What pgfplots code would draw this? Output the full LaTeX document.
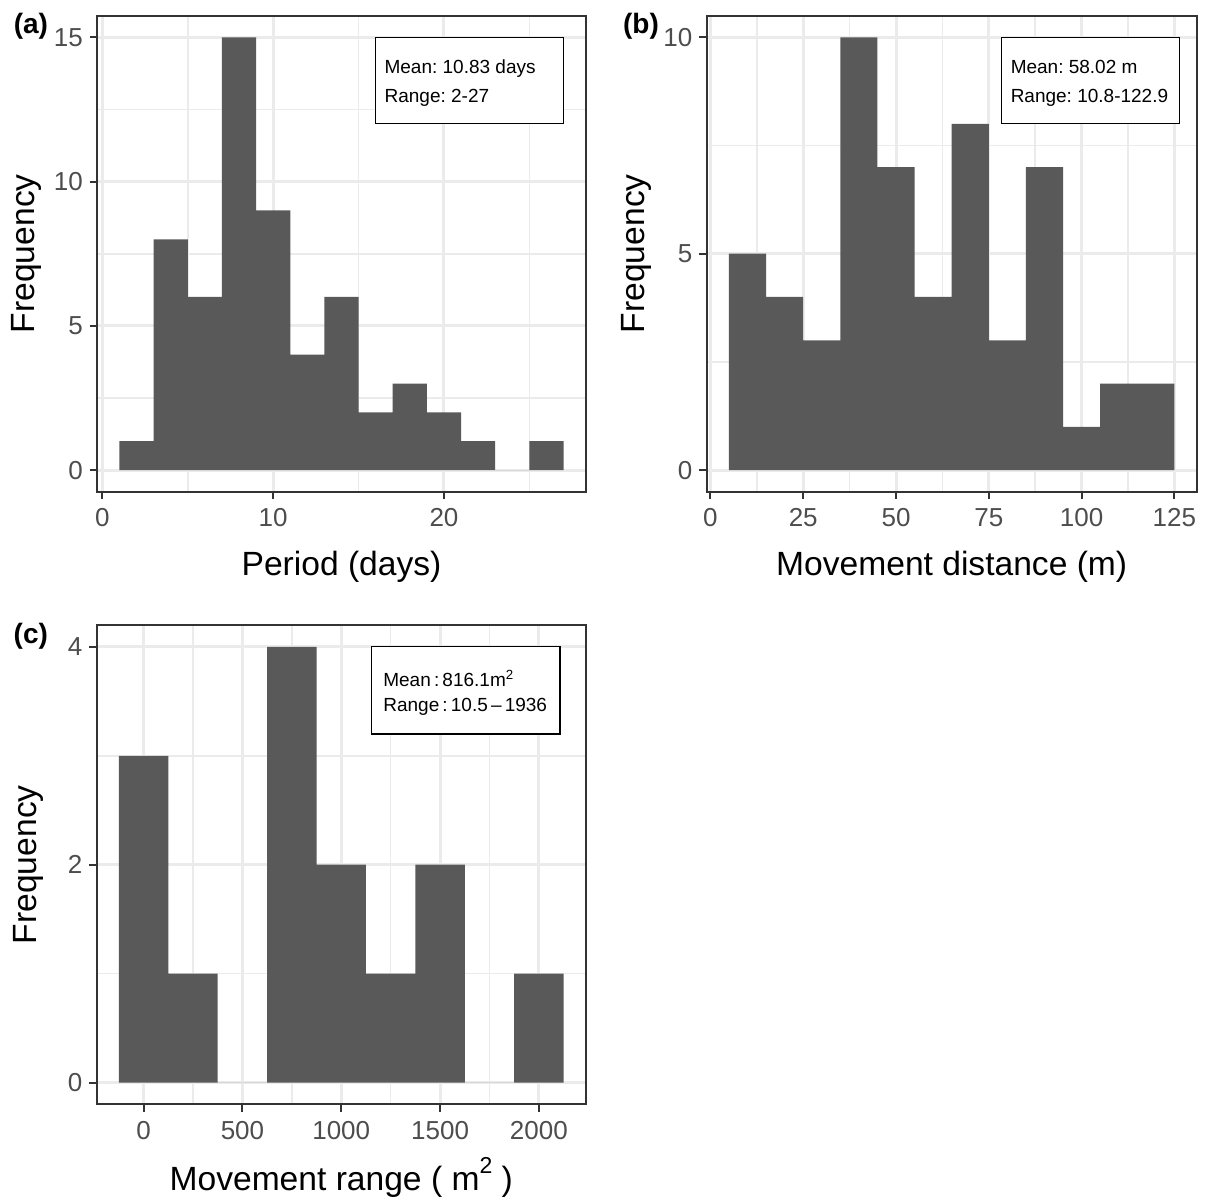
\documentclass[border=0pt]{standalone}
\usepackage{fontspec}
\setmainfont{Liberation Sans}
\usepackage{pgfplots}
\pgfplotsset{compat=1.18}
\frenchspacing
\definecolor{barc}{HTML}{595959}
\definecolor{gridc}{HTML}{EBEBEB}
\definecolor{frame}{HTML}{333333}
\definecolor{tlab}{HTML}{4D4D4D}
\newcommand{\labfont}{\fontsize{16.8}{20}\selectfont}
\newcommand{\boxfont}{\fontsize{9.5}{11}\selectfont}
\pgfplotsset{
  hstyle/.style={
    scale only axis,
    axis line style={draw=frame, line width=1pt},
    tick align=outside,
    xtick pos=bottom, ytick pos=left,
    major tick length=3.7pt,
    minor tick length=0pt,
    every tick/.style={draw=frame, line width=1pt},
    grid=both,
    major grid style={draw=gridc, line width=1.5pt},
    minor grid style={draw=gridc, line width=0.8pt},
    tick label style={font=\fontsize{13}{15}\selectfont, text=tlab},
    xticklabel style={yshift=-1.2pt},
    /pgf/number format/assume math mode=true,
    /pgf/number format/1000 sep={},
    scaled ticks=false,
    ylabel={Frequency},
  }
}
\begin{document}
\begin{tikzpicture}
\path[use as bounding box] (0,0) rectangle (602.5pt,-598pt);

% ---------- (a) ----------
\begin{axis}[hstyle,
  at={(48.65pt,-7.85pt)}, anchor=north west,
  width=244.2pt, height=238pt,
  xmin=-0.3, xmax=28.3, ymin=-0.75, ymax=15.75,
  xtick={0,10,20}, minor xtick={5,15,25},
  ytick={0,5,10,15}, minor ytick={2.5,7.5,12.5},
  xlabel={Period (days)},
  every axis x label/.style={at={(axis description cs:0.5,-0.175)}, anchor=base, font=\labfont},
  every axis y label/.style={at={(axis description cs:-0.1288,0.5)}, rotate=90, anchor=base, font=\labfont},
]
\addplot[const plot, fill=barc, draw=none] coordinates {
  (1,1) (3,8) (5,6) (7,15) (9,9) (11,4) (13,6) (15,2) (17,3) (19,2) (21,1) (23,0) (25,1) (27,1)
} \closedcycle;
\draw[fill=white, draw=black, line width=0.6pt] (axis cs:16,12) rectangle (axis cs:27,15);
\node[anchor=base west, inner sep=0, font=\boxfont] at (axis cs:16.5,13.75) {Mean: 10.83 days};
\node[anchor=base west, inner sep=0, font=\boxfont] at (axis cs:16.5,12.75) {Range: 2-27};
\end{axis}

% ---------- (b) ----------
\begin{axis}[hstyle,
  at={(353.35pt,-7.85pt)}, anchor=north west,
  width=245pt, height=238pt,
  xmin=-1, xmax=131, ymin=-0.5, ymax=10.5,
  xtick={0,25,50,75,100,125}, minor xtick={12.5,37.5,62.5,87.5,112.5},
  ytick={0,5,10}, minor ytick={2.5,7.5},
  xlabel={Movement distance (m)},
  every axis x label/.style={at={(axis description cs:0.5,-0.175)}, anchor=base, font=\labfont},
  every axis y label/.style={at={(axis description cs:-0.1265,0.5)}, rotate=90, anchor=base, font=\labfont},
]
\addplot[const plot, fill=barc, draw=none] coordinates {
  (5,5) (15,4) (25,3) (35,10) (45,7) (55,4) (65,8) (75,3) (85,7) (95,1) (105,2) (115,2) (125,2)
} \closedcycle;
\draw[fill=white, draw=black, line width=0.6pt] (axis cs:78.5,8) rectangle (axis cs:126.3,10);
\node[anchor=base west, inner sep=0, font=\boxfont] at (axis cs:80.8,9.16) {Mean: 58.02 m};
\node[anchor=base west, inner sep=0, font=\boxfont] at (axis cs:80.8,8.49) {Range: 10.8-122.9};
\end{axis}

% ---------- (c) ----------
\begin{axis}[hstyle,
  at={(48.35pt,-312.5pt)}, anchor=north west,
  width=244.55pt, height=239.7pt,
  xmin=-237.5, xmax=2237.5, ymin=-0.2, ymax=4.2,
  xtick={0,500,1000,1500,2000}, minor xtick={250,750,1250,1750},
  ytick={0,2,4}, minor ytick={1,3},
  xlabel={Movement range ( m\raisebox{0.5em}{\fontsize{11.5}{11.5}\selectfont 2} )},
  every axis x label/.style={at={(axis description cs:0.5,-0.1794)}, anchor=base, font=\labfont},
  every axis y label/.style={at={(axis description cs:-0.1235,0.5)}, rotate=90, anchor=base, font=\labfont},
]
\addplot[const plot, fill=barc, draw=none] coordinates {
  (-125,3) (125,1) (375,0) (625,4) (875,2) (1125,1) (1375,2) (1625,0) (1875,1) (2125,1)
} \closedcycle;
\draw[fill=white, draw=black, line width=0.6pt] (axis cs:1155,3.2) rectangle (axis cs:2107,4);
\node[anchor=base west, inner sep=0, font=\boxfont] at (axis cs:1211,3.632) {Mean\,:\,816.1m\textsuperscript{2}};
\node[anchor=base west, inner sep=0, font=\boxfont] at (axis cs:1211,3.409) {Range\,:\,10.5\,–\,1936};
\end{axis}

% panel labels
\node[anchor=base west, inner sep=0, font=\fontsize{14}{16}\selectfont\bfseries] at (6.7pt,-16.5pt) {(a)};
\node[anchor=base west, inner sep=0, font=\fontsize{14}{16}\selectfont\bfseries] at (311.35pt,-16.5pt) {(b)};
\node[anchor=base west, inner sep=0, font=\fontsize{14}{16}\selectfont\bfseries] at (6.65pt,-321.65pt) {(c)};
\end{tikzpicture}
\end{document}
